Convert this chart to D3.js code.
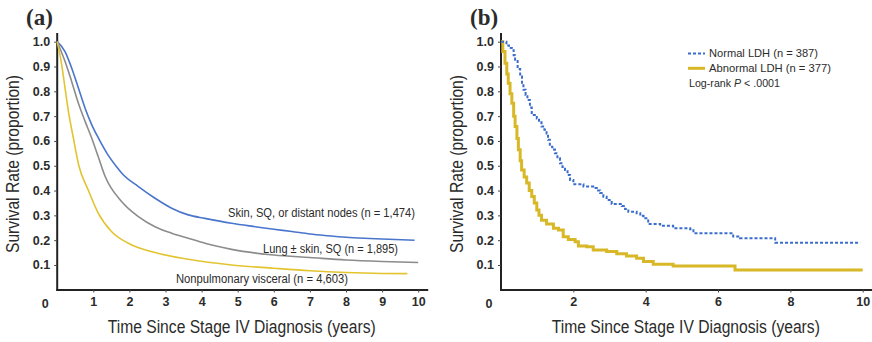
<!DOCTYPE html>
<html><head><meta charset="utf-8">
<script src="https://cdn.jsdelivr.net/npm/d3@7"></script>
<style>
body{margin:0;background:#fff;}
svg{display:block;}
text{font-family:"Liberation Sans Narrow","Arial Narrow","Liberation Sans",Arial,sans-serif;fill:#2b2b2b;}
</style></head><body>
<svg id="c" width="872" height="342"></svg>
<script>
// ---------- DATA ----------
const yTicks = [0.1,0.2,0.3,0.4,0.5,0.6,0.7,0.8,0.9,1.0];
const xTicksA = [1,2,3,4,5,6,7,8,9,10];
const xTicksB = [2,4,6,8,10];

// Panel (a) – survival by metastatic site
const skinTime = [0,0.216,0.40,0.585,0.77,0.955,1.14,1.37,1.65,1.79,2.25,2.71,3.17,3.63,4.09,4.83,5.5,6.0,6.5,7.0,7.5,8.0,8.5,9.0,9.9];
const skinSurv = [1.0,0.96,0.894,0.814,0.733,0.666,0.612,0.552,0.495,0.47,0.416,0.369,0.329,0.302,0.288,0.268,0.254,0.244,0.235,0.225,0.218,0.212,0.208,0.205,0.200];
const lungTime = [0,0.216,0.40,0.585,0.77,0.955,1.14,1.32,1.79,2.25,2.71,3.17,3.63,4.09,4.83,6.0,7.0,8.0,9.0,10.0];
const lungSurv = [1.0,0.921,0.84,0.753,0.68,0.612,0.535,0.46,0.355,0.295,0.254,0.228,0.208,0.1875,0.163,0.14,0.13,0.12,0.114,0.11];
const viscTime = [0,0.124,0.216,0.31,0.447,0.60,0.86,1.14,1.51,1.97,2.71,3.63,4.83,6.0,7.0,8.0,9.0,9.7];
const viscSurv = [1.0,0.908,0.814,0.72,0.612,0.50,0.402,0.308,0.234,0.1875,0.15,0.123,0.10,0.087,0.077,0.07,0.066,0.065];
const labelsA = ["Skin, SQ, or distant nodes (n = 1,474)","Lung \u00b1 skin, SQ (n = 1,895)","Nonpulmonary visceral (n = 4,603)"];

// Panel (b) – survival by LDH (Kaplan–Meier steps)
const normTime = [0,0.15,0.22,0.3,0.35,0.39,0.46,0.53,0.58,0.62,0.68,0.73,0.8,0.85,0.99,1.05,1.12,1.2,1.26,1.3,1.35,1.42,1.49,1.56,1.63,1.7,1.77,1.84,1.91,2.0,2.28,2.55,2.65,2.74,2.83,2.92,3.06,3.34,3.43,3.52,3.75,3.85,3.94,4.07,4.4,4.76,5.23,5.32,6.15,6.42,6.61,7.58,9.93];
const normSurv = [1.0,0.985,0.975,0.966,0.945,0.927,0.89,0.86,0.83,0.806,0.785,0.765,0.735,0.705,0.69,0.675,0.658,0.645,0.63,0.605,0.577,0.565,0.55,0.53,0.51,0.495,0.483,0.463,0.443,0.425,0.416,0.41,0.40,0.39,0.375,0.362,0.346,0.338,0.326,0.315,0.309,0.298,0.288,0.265,0.258,0.248,0.244,0.228,0.228,0.215,0.208,0.19,0.19];
const abnTime = [0,0.05,0.11,0.16,0.2,0.25,0.3,0.35,0.39,0.44,0.48,0.53,0.57,0.64,0.71,0.78,0.85,0.92,0.99,1.05,1.12,1.26,1.45,1.59,1.72,1.86,2.05,2.14,2.37,2.55,2.92,3.2,3.47,3.75,3.94,4.21,4.76,6.47,10.0];
const abnSurv = [1.0,0.96,0.913,0.87,0.833,0.79,0.752,0.70,0.658,0.61,0.564,0.52,0.483,0.455,0.43,0.40,0.376,0.35,0.322,0.30,0.28,0.265,0.248,0.241,0.214,0.203,0.194,0.177,0.174,0.16,0.154,0.145,0.136,0.127,0.114,0.103,0.096,0.08,0.08];
const legendB = ["Normal LDH (n = 387)","Abnormal LDH (n = 377)"];

// ---------- DRAW ----------
const svg = d3.select("#c");
const colBlue = "#4a75cc", colGray = "#8c8c8c", colYellow = "#e2c431", colYellowB = "#d8b826", colBlueB = "#3a6ccb";

function fitText(sel, len) {
  return sel.attr("textLength", len).attr("lengthAdjust","spacingAndGlyphs");
}

function panel(x0, x1, xTicks, tag, tagX) {
  const x = d3.scaleLinear().domain([0,10]).range([x0, x1]);
  const y = d3.scaleLinear().domain([0,1]).range([289.8, 41.7]);
  const g = svg.append("g");
  g.append("g").attr("transform","translate(0,289.5)")
    .call(d3.axisBottom(x).tickValues(xTicks).tickSize(3).tickPadding(5).tickFormat(d3.format("d")))
    .call(a=>a.select(".domain").attr("d",`M${x0-1},0.5H${x(10)+10}`).attr("stroke","#222").attr("stroke-width",2))
    .call(a=>a.selectAll(".tick line").attr("stroke","#444"))
    .call(a=>a.selectAll("text").attr("font-size",12.5).attr("font-weight","bold").attr("fill","#333"));
  g.append("g").attr("transform",`translate(${x0},0)`)
    .call(d3.axisLeft(y).tickValues(yTicks).tickSize(3).tickPadding(4).tickFormat(d3.format(".1f")))
    .call(a=>a.select(".domain").attr("d",`M0,33V290.5`).attr("stroke","#222").attr("stroke-width",2))
    .call(a=>a.selectAll(".tick line").attr("stroke","#444"))
    .call(a=>a.selectAll("text").attr("font-size",12.5).attr("font-weight","bold").attr("fill","#333"));
  g.append("text").attr("x",x0-12).attr("y",307.5).attr("text-anchor","middle")
    .attr("font-size",12.5).attr("font-weight","bold").attr("fill","#333").text("0");
  fitText(g.append("text").attr("transform",`translate(${x0-38.5},164) rotate(-90)`).attr("text-anchor","middle")
    .attr("font-size",17.5).attr("fill","#333").text("Survival Rate (proportion)"), 178);
  fitText(g.append("text").attr("x",(x0+x(10))/2+4).attr("y",333).attr("text-anchor","middle")
    .attr("font-size",17.5).attr("fill","#333").text("Time Since Stage IV Diagnosis (years)"), 268);
  g.append("text").attr("x",tagX).attr("y",25)
    .style("font-family","'Liberation Serif','DejaVu Serif',serif")
    .attr("font-size",23).attr("font-weight","bold").attr("fill","#111").text(tag);
  return {x,y,g};
}

// Panel a
const A = panel(57.2, 418.2, xTicksA, "(a)", 26);
const lineA = d3.line().x(d=>A.x(d[0])).y(d=>A.y(d[1])).curve(d3.curveMonotoneX);
[[skinTime,skinSurv,colBlue],[lungTime,lungSurv,colGray],[viscTime,viscSurv,colYellow]].forEach(([t,s,c])=>{
  A.g.append("path").datum(t.map((v,i)=>[v,s[i]])).attr("d",lineA)
    .attr("fill","none").attr("stroke",c).attr("stroke-width",1.6);
});
fitText(A.g.append("text").attr("x",228).attr("y",217).attr("font-size",12).text(labelsA[0]), 187);
fitText(A.g.append("text").attr("x",263).attr("y",253).attr("font-size",12).text(labelsA[1]), 135);
fitText(A.g.append("text").attr("x",176).attr("y",283).attr("font-size",12).text(labelsA[2]), 172);

// Panel b
const B = panel(501, 862.7, xTicksB, "(b)", 470);
const lineB = d3.line().x(d=>B.x(d[0])).y(d=>B.y(d[1])).curve(d3.curveStepAfter);
B.g.append("path").datum(abnTime.map((v,i)=>[v,abnSurv[i]])).attr("d",lineB)
  .attr("fill","none").attr("stroke",colYellowB).attr("stroke-width",3);
B.g.append("path").datum(normTime.map((v,i)=>[v,normSurv[i]])).attr("d",lineB)
  .attr("fill","none").attr("stroke",colBlueB).attr("stroke-width",2).attr("stroke-dasharray","3,2");
// legend
const lg = B.g.append("g");
lg.append("line").attr("x1",688).attr("x2",705).attr("y1",53.5).attr("y2",53.5)
  .attr("stroke",colBlueB).attr("stroke-width",2).attr("stroke-dasharray","3,2");
lg.append("line").attr("x1",688).attr("x2",705).attr("y1",68.3).attr("y2",68.3)
  .attr("stroke",colYellowB).attr("stroke-width",3);
fitText(lg.append("text").attr("x",709).attr("y",57.3).attr("font-size",11).text(legendB[0]), 109);
fitText(lg.append("text").attr("x",709).attr("y",72.1).attr("font-size",11).text(legendB[1]), 122);
const lr = lg.append("text").attr("x",689).attr("y",87).attr("font-size",11);
lr.append("tspan").text("Log-rank ");
lr.append("tspan").attr("font-style","italic").text("P");
lr.append("tspan").text(" < .0001");
fitText(lr, 91);
</script>
</body></html>
